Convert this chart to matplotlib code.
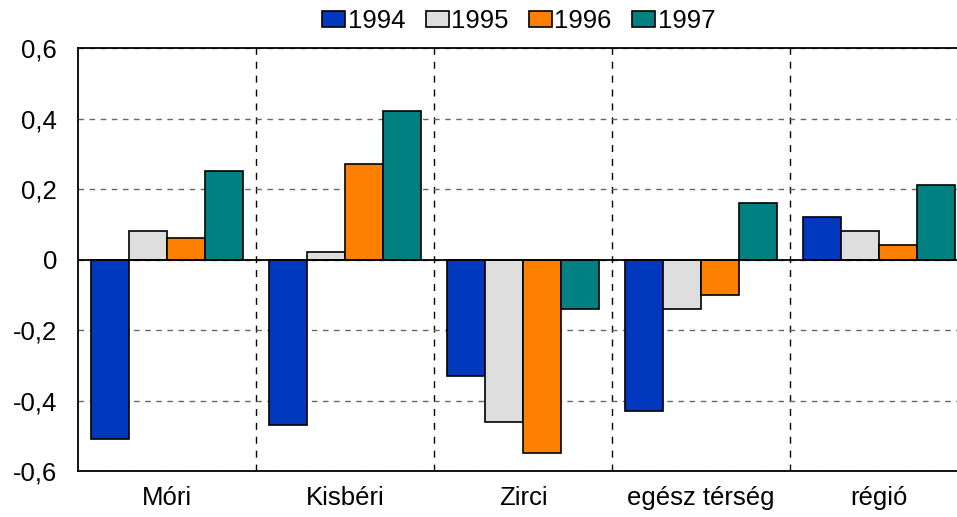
import numpy as np
import matplotlib.pyplot as plt
from matplotlib.ticker import FixedLocator

plt.rcParams['font.family'] = ['Liberation Sans', 'DejaVu Sans']

categories = ['Móri', 'Kisbéri', 'Zirci', 'egész térség', 'régió']
years = ['1994', '1995', '1996', '1997']
v1994 = [-0.51, -0.47, -0.33, -0.43, 0.12]
v1995 = [0.08, 0.02, -0.46, -0.14, 0.08]
v1996 = [0.06, 0.27, -0.55, -0.10, 0.04]
v1997 = [0.25, 0.42, -0.14, 0.16, 0.21]
yticks = [-0.6, -0.4, -0.2, 0, 0.2, 0.4, 0.6]
ytick_labels = ['-0,6', '-0,4', '-0,2', '0', '0,2', '0,4', '0,6']

colors = ['#0039BD', '#DEDEDE', '#FF8000', '#008080']
series = [v1994, v1995, v1996, v1997]

fig = plt.figure(figsize=(9.57, 5.17), dpi=100)
ax = fig.add_axes([78 / 957, 46 / 517, 890 / 957, 423 / 517])

x = np.arange(len(categories))
w = 0.214
for i, (vals, c, lab) in enumerate(zip(series, colors, years)):
    ax.bar(x + (i - 1.5) * w, vals, width=w, color=c, edgecolor='black',
           linewidth=1.2, label=lab, zorder=3)

ax.set_xlim(-0.5, len(categories) - 0.5)
ax.set_ylim(-0.6, 0.6)
ax.set_yticks(yticks)
ax.set_yticklabels(ytick_labels)
ax.set_xticks(x)
ax.set_xticklabels(categories)
ax.tick_params(length=0, labelsize=18.5)
ax.tick_params(axis='y', pad=15)
ax.tick_params(axis='x', pad=11)

ax.xaxis.set_minor_locator(FixedLocator(x[:-1] + 0.5))
ax.grid(axis='y', which='major', color='#666666', linestyle=(0, (4, 4)), linewidth=1, zorder=1)
ax.grid(axis='x', which='minor', color='black', linestyle=(0, (5, 5)), linewidth=1, zorder=1)
ax.tick_params(which='minor', length=0)
ax.axhline(0, color='black', linewidth=1.3, zorder=4)
for s in ax.spines.values():
    s.set_linewidth(1.3)

fig.legend(loc='upper center', bbox_to_anchor=(0.542, 1.027), ncol=4, frameon=False,
           fontsize=18.5, handlelength=0.9, handleheight=0.58, handletextpad=0.1,
           columnspacing=0.78)

fig.savefig('out.png', dpi=100)
